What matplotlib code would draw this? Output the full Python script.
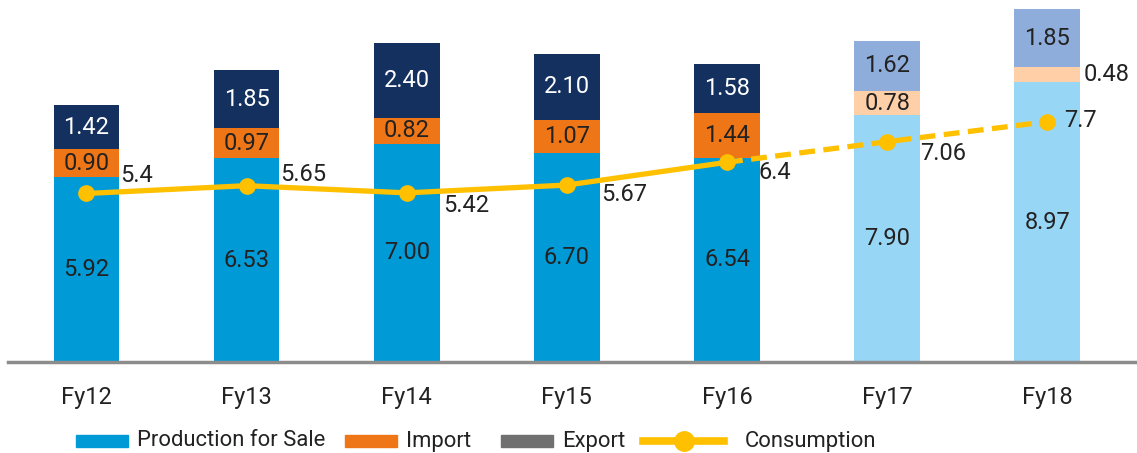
import matplotlib.pyplot as plt
from matplotlib.patches import Rectangle
from matplotlib.lines import Line2D

plt.rcParams['font.family'] = ['Roboto', 'DejaVu Sans']

years = ['Fy12', 'Fy13', 'Fy14', 'Fy15', 'Fy16', 'Fy17', 'Fy18']
production = [5.92, 6.53, 7.00, 6.70, 6.54, 7.90, 8.97]
imports = [0.90, 0.97, 0.82, 1.07, 1.44, 0.78, 0.48]
exports = [1.42, 1.85, 2.40, 2.10, 1.58, 1.62, 1.85]
consumption = [5.4, 5.65, 5.42, 5.67, 6.4, 7.06, 7.7]
cons_labels = ['5.4', '5.65', '5.42', '5.67', '6.4', '7.06', '7.7']
n_actual = 5  # Fy12..Fy16 actual, rest projected

# colours: actual / projected
c_prod = ['#009AD7'] * n_actual + ['#98D6F5'] * 2
c_imp = ['#EF7616'] * n_actual + ['#FFCFA7'] * 2
c_exp = ['#13305E'] * n_actual + ['#8FADDA'] * 2
exp_txt = ['white'] * n_actual + ['#222222'] * 2
txt = '#222222'

W, H = 1137, 453
fig = plt.figure(figsize=(W / 100, H / 100), dpi=100)
ax = fig.add_axes([0.007, 0.2009, 0.993, 0.7991])

x = list(range(len(years)))
w = 0.41
ax.bar(x, production, w, color=c_prod)
ax.bar(x, imports, w, bottom=production, color=c_imp)
bot2 = [p + i for p, i in zip(production, imports)]
ax.bar(x, exports, w, bottom=bot2, color=c_exp)

fs = 17
for i in x:
    ax.text(i, production[i] * 0.5, f'{production[i]:.2f}', ha='center', va='center',
            fontsize=fs, color=txt)
    if imports[i] < 0.6:
        ax.text(i + w / 2 + 0.02, production[i] + imports[i] / 2, f'{imports[i]:.2f}',
                ha='left', va='center', fontsize=fs, color=txt)
    else:
        ax.text(i, production[i] + imports[i] / 2, f'{imports[i]:.2f}', ha='center',
                va='center', fontsize=fs, color=txt)
    ax.text(i, bot2[i] + exports[i] / 2, f'{exports[i]:.2f}', ha='center', va='center',
            fontsize=fs, color=exp_txt[i])

yellow = '#FFC000'
ax.plot(x[:n_actual], consumption[:n_actual], color=yellow, lw=3.8, marker='o', ms=11,
        solid_capstyle='butt', zorder=4)
ax.plot(x[n_actual - 1:], consumption[n_actual - 1:], color=yellow, lw=3.8, ls=(0, (3, 1.6)),
        marker='o', ms=11, markevery=[1, 2], zorder=4)

# label offsets in pixels from each point
offs = [(34, 18), (34, 11), (36, -13), (34, -9), (31, -10), (33, -12), (17, 1)]
for i in x:
    ax.annotate(cons_labels[i], (i, consumption[i]), xytext=offs[i], textcoords='offset pixels',
                ha='left', va='center', fontsize=fs, color=txt, zorder=5)

ax.set_xlim(-0.49, 6.56)
ax.set_ylim(0, 11.6)
ax.set_xticks(x)
ax.set_xticklabels(years, fontsize=fs, color=txt)
ax.tick_params(axis='x', length=0, pad=17)
ax.set_yticks([])
for s in ['left', 'right', 'top']:
    ax.spines[s].set_visible(False)
ax.spines['bottom'].set_color('#8C8C8C')
ax.spines['bottom'].set_linewidth(2.5)

# legend drawn by hand (pixel layout from the reference)
ly = 1 - 441 / H
patches = [(76, '#009AD7', 'Production for Sale'), (345, '#EF7616', 'Import'),
           (501, '#707070', 'Export')]
for px, col, name in patches:
    fig.patches.append(Rectangle((px / W, ly - 6 / H), 52 / W, 12 / H, color=col,
                                 transform=fig.transFigure))
    fig.text((px + 61) / W, ly, name, fontsize=15.8, color=txt, va='center', ha='left')
fig.lines.append(Line2D([643 / W, 724 / W], [ly, ly], color=yellow, lw=5.5,
                        transform=fig.transFigure))
fig.lines.append(Line2D([683.5 / W], [ly], color=yellow, marker='o', ms=14,
                        transform=fig.transFigure))
fig.text(745 / W, ly, 'Consumption', fontsize=15.8, color=txt, va='center', ha='left')

fig.savefig('out.png', dpi=100)
